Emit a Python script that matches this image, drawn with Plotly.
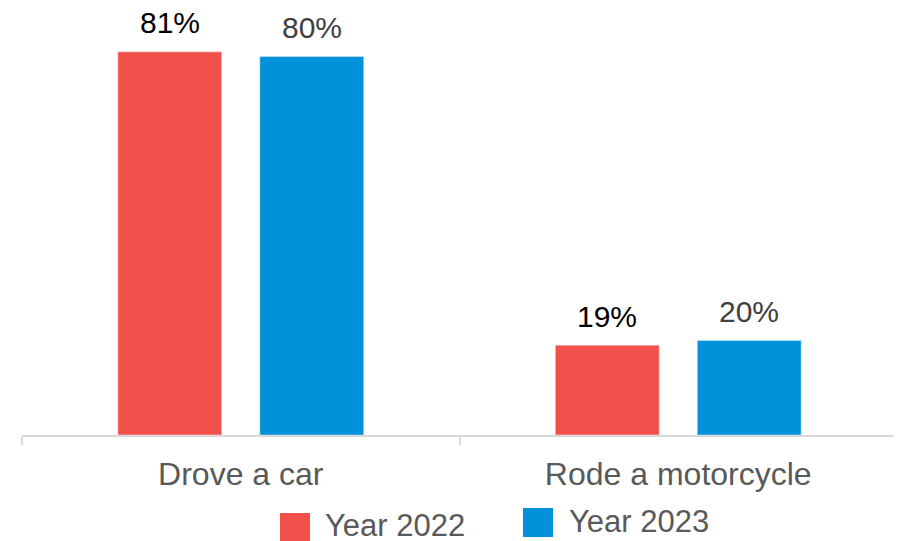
import plotly.graph_objects as go

categories = ["Drove a car", "Rode a motorcycle"]
series_names = ["Year 2022", "Year 2023"]
values_2022 = [81, 19]
values_2023 = [80, 20]

colors = ["#F2504A", "#0091DA"]
label_colors = ["#000000", "#404040"]
font = "Liberation Sans, Arial, sans-serif"

# page body adds an 8px offset, so the figure is sized to the visible area
OFF = 8
W, H = 902 - OFF, 541 - OFF
L, R, T, B = 22 - OFF, 5, 0, 106
plot_w = W - L - R
plot_h = H - T - B

fig = go.Figure()
for name, vals, col in zip(series_names, [values_2022, values_2023], colors):
    fig.add_trace(go.Bar(x=categories, y=vals, name=name, marker_color=col,
                         showlegend=False))

# value labels above bars
annotations = []
for i, (vals, lc) in enumerate(zip([values_2022, values_2023], label_colors)):
    shift = -71 if i == 0 else 71
    for c, v in zip(categories, vals):
        annotations.append(dict(x=c, y=v, xref="x", yref="y", text=f"{v}%",
                                showarrow=False, xshift=shift, yshift=29,
                                yanchor="middle",
                                font=dict(size=30, color=lc, family=font)))

# legend drawn by hand so the swatches match the original size
def px_x(p):
    return (p - OFF - L) / plot_w

def px_y(p):
    return (T + plot_h - (p - OFF)) / plot_h

shapes = []
legend_pos = [(280, 513, 323, 525), (523, 508, 567, 521)]
for name, col, (sx, sy, tx, ty) in zip(series_names, colors, legend_pos):
    shapes.append(dict(type="rect", xref="paper", yref="paper",
                       x0=px_x(sx), x1=px_x(sx + 30), y0=px_y(sy), y1=px_y(sy + 29),
                       fillcolor=col, line_width=0))
    annotations.append(dict(x=px_x(tx), y=px_y(ty), xref="paper", yref="paper",
                            text=name, showarrow=False, xanchor="left",
                            yanchor="middle",
                            font=dict(size=31, color="#595959", family=font)))

fig.update_layout(
    width=W, height=H,
    margin=dict(l=L, r=R, t=T, b=B, autoexpand=False),
    plot_bgcolor="white", paper_bgcolor="white",
    barmode="group", bargap=0.351, bargroupgap=0.268,
    annotations=annotations, shapes=shapes,
    font=dict(family=font),
)
fig.update_xaxes(showline=True, linecolor="#D9D9D9", linewidth=1.5,
                 ticks="outside", tickson="boundaries", ticklen=8,
                 tickcolor="#D9D9D9", tickwidth=1.5, ticklabelstandoff=10,
                 tickfont=dict(size=32, color="#595959", family=font))
fig.update_yaxes(visible=False, range=[0, plot_h / 4.73], showgrid=False)

fig.write_html("out.html")
